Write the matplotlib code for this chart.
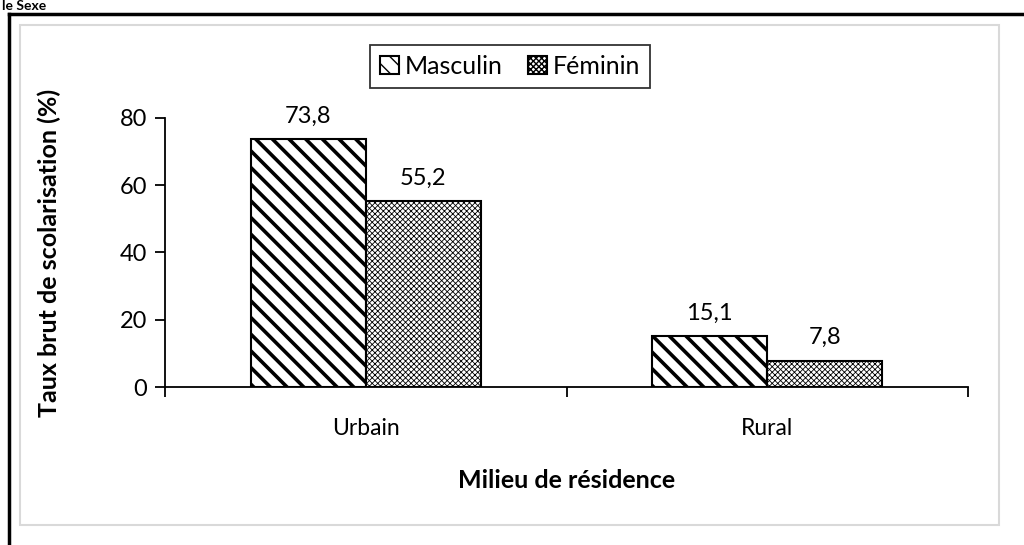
import numpy as np
import matplotlib.pyplot as plt
from matplotlib.patches import Rectangle
from matplotlib.lines import Line2D

milieux = ['Urbain', 'Rural']
masculin = [73.8, 15.1]
feminin = [55.2, 7.8]
series = ['Masculin', 'Féminin']

plt.rcParams['font.family'] = ['Lato', 'DejaVu Sans']

fig = plt.figure(figsize=(10.24, 5.45), dpi=100)
ax = fig.add_axes([165 / 1024, 1 - 387 / 545, (968 - 165) / 1024, (387 - 118) / 545])

x = np.arange(len(milieux))
w = 0.287
b1 = ax.bar(x - w / 2, masculin, w, color='white', edgecolor='black',
            linewidth=1.5, hatch='\\\\', label=series[0])
b2 = ax.bar(x + w / 2, feminin, w, color='white', edgecolor='black',
            linewidth=1.5, hatch='xxxxxx', label=series[1])
for rect in b1:
    rect.set_hatch_linewidth(2.6)
for rect in b2:
    rect.set_hatch_linewidth(0.6)

for bars, vals in ((b1, masculin), (b2, feminin)):
    for rect, v in zip(bars, vals):
        ax.annotate(f'{v:.1f}'.replace('.', ','), (rect.get_x() + rect.get_width() / 2, v),
                    xytext=(0, 9), textcoords='offset points', ha='center', va='bottom',
                    fontsize=17)

ax.set_xlim(-0.5, 1.5)
ax.set_ylim(0, 80)
ax.set_yticks([0, 20, 40, 60, 80])
ax.tick_params(axis='y', labelsize=17, length=7, width=1.3, direction='out', pad=6)
ax.set_xticks([-0.5, 0.5, 1.5])
ax.set_xticklabels([])
ax.set_xticks(x, minor=True)
ax.set_xticklabels(milieux, minor=True)
ax.tick_params(axis='x', which='major', length=7, width=1.3, direction='out')
ax.tick_params(axis='x', which='minor', length=0, labelsize=16.5, pad=22)
for s in ['top', 'right']:
    ax.spines[s].set_visible(False)
for s in ['left', 'bottom']:
    ax.spines[s].set_linewidth(1.3)

ax.set_ylabel('Taux brut de scolarisation (%)', fontsize=18, fontweight='bold', labelpad=42)
ax.set_xlabel('Milieu de résidence', fontsize=18, fontweight='bold', labelpad=22)

leg = ax.legend(loc='center', bbox_to_anchor=(510 / 1024, 1 - 66 / 545),
                bbox_transform=fig.transFigure, ncol=2, fontsize=18, frameon=True,
                fancybox=False, edgecolor='black', handlelength=0.75, handleheight=0.75,
                handletextpad=0.25, columnspacing=1.0, borderpad=0.4, borderaxespad=0)
leg.get_frame().set_linewidth(1.3)

# page frame and chart area border
fig.add_artist(Rectangle((20 / 1024, 1 - 525 / 545), 979 / 1024, 500 / 545,
                         transform=fig.transFigure, fill=False, edgecolor='#d9d9d9', linewidth=1.5))
fig.add_artist(Line2D([9 / 1024, 1], [1 - 14 / 545, 1 - 14 / 545], transform=fig.transFigure,
                      color='black', linewidth=2.5))
fig.add_artist(Line2D([9 / 1024, 9 / 1024], [0, 1 - 14 / 545], transform=fig.transFigure,
                      color='black', linewidth=2.5))
fig.text(2 / 1024, 1 - 6 / 545, 'le Sexe', fontsize=10, fontweight='bold', ha='left', va='center')

fig.savefig('out.png', dpi=100)
